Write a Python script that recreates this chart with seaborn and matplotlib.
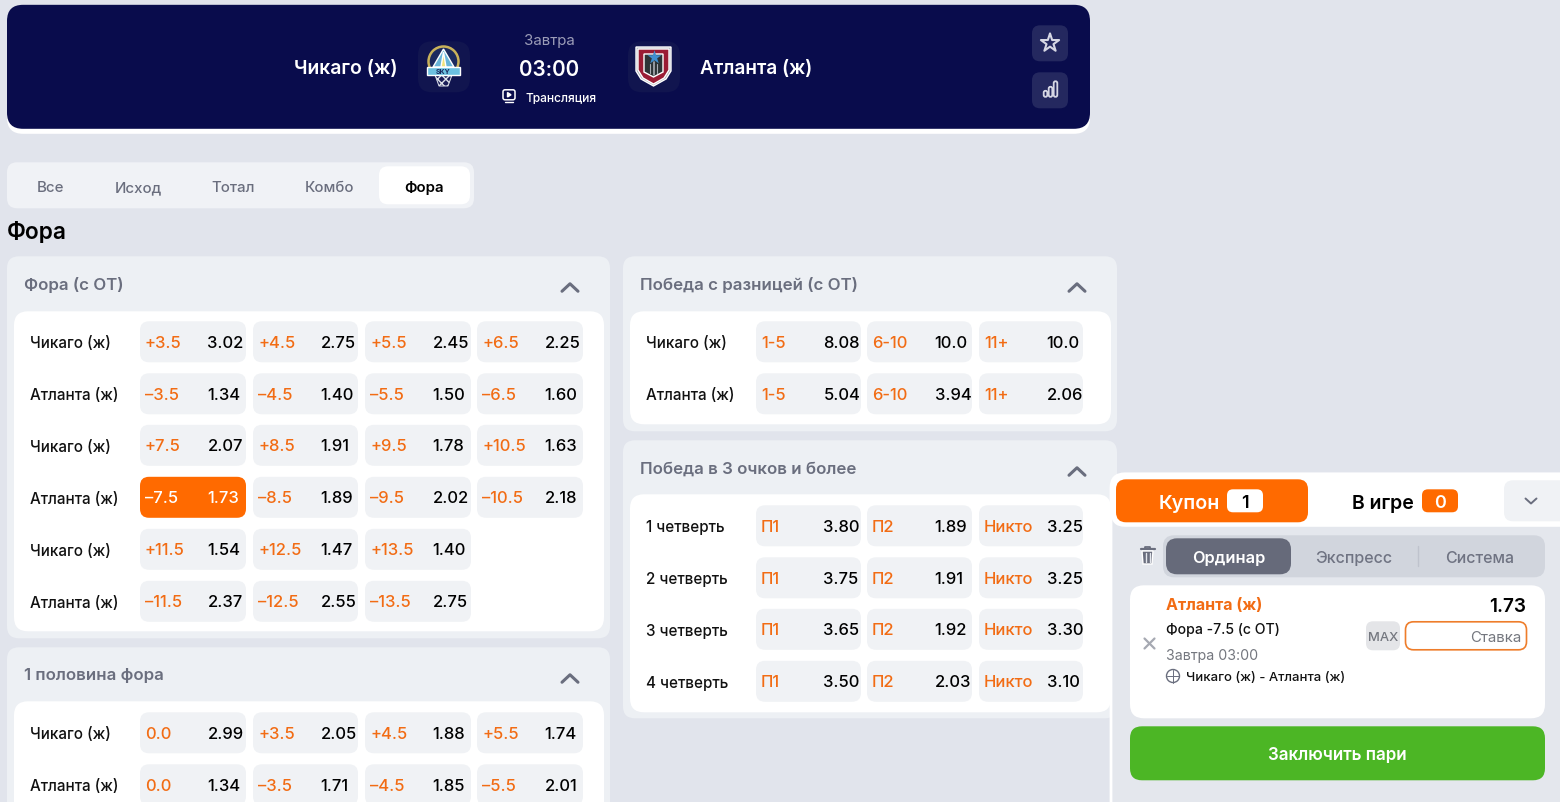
import matplotlib
matplotlib.use("Agg")
import matplotlib.pyplot as plt
import seaborn as sns
from matplotlib.patches import FancyBboxPatch, Circle, Polygon, Rectangle

# Data
team_home = "Чикаго (ж)"
team_away = "Атланта (ж)"
tabs = ["Все", "Исход", "Тотал", "Комбо", "Фора"]

# Фора (с ОТ)
handicap_names = [team_home, team_away, team_home, team_away, team_home, team_away]
handicap_lines = [
    ["+3.5", "+4.5", "+5.5", "+6.5"],
    ["–3.5", "–4.5", "–5.5", "–6.5"],
    ["+7.5", "+8.5", "+9.5", "+10.5"],
    ["–7.5", "–8.5", "–9.5", "–10.5"],
    ["+11.5", "+12.5", "+13.5"],
    ["–11.5", "–12.5", "–13.5"],
]
handicap_odds = [
    ["3.02", "2.75", "2.45", "2.25"],
    ["1.34", "1.40", "1.50", "1.60"],
    ["2.07", "1.91", "1.78", "1.63"],
    ["1.73", "1.89", "2.02", "2.18"],
    ["1.54", "1.47", "1.40"],
    ["2.37", "2.55", "2.75"],
]

# 1 половина фора
half_names = [team_home, team_away]
half_lines = [["0.0", "+3.5", "+4.5", "+5.5"], ["0.0", "–3.5", "–4.5", "–5.5"]]
half_odds = [["2.99", "2.05", "1.88", "1.74"], ["1.34", "1.71", "1.85", "2.01"]]

# Победа с разницей (с ОТ)
margin_names = [team_home, team_away]
margin_lines = [["1-5", "6-10", "11+"], ["1-5", "6-10", "11+"]]
margin_odds = [["8.08", "10.0", "10.0"], ["5.04", "3.94", "2.06"]]

# Победа в 3 очков и более
quarter_names = ["1 четверть", "2 четверть", "3 четверть", "4 четверть"]
quarter_lines = [["П1", "П2", "Никто"]] * 4
quarter_odds = [
    ["3.80", "1.89", "3.25"],
    ["3.75", "1.91", "3.25"],
    ["3.65", "1.92", "3.30"],
    ["3.50", "2.03", "3.10"],
]

BG = "#e1e4ec"
PANEL = "#edf0f4"
CELL = "#f0f2f5"
ORANGE = "#ff6a00"
LINE_ORANGE = "#f26c14"
NAVY = "#090c4c"
GREY = "#6a6e7e"

sns.set_theme(style="white")
plt.rcParams["font.family"] = ["Inter", "DejaVu Sans"]

fig = plt.figure(figsize=(15.6, 8.03), dpi=100, facecolor=BG)
ax = fig.add_axes([0, 0, 1, 1])
ax.set_xlim(0, 1560)
ax.set_ylim(803, 0)
ax.axis("off")


def box(x0, y0, x1, y1, color, r=10, z=1, edge="none", lw=0):
    # shapes sit about a pixel high otherwise
    y0 += 0.8
    y1 += 0.8
    p = FancyBboxPatch((x0 + r, y0 + r), x1 - x0 - 2 * r, y1 - y0 - 2 * r,
                       boxstyle=f"round,pad={r},rounding_size={r}",
                       fc=color, ec=edge, lw=lw, zorder=z)
    ax.add_patch(p)
    return p


def txt(x, y, s, px=17, color="black", weight="medium", ha="left", z=5):
    ax.text(x, y, s, fontsize=px * 0.72, color=color, fontweight=weight,
            ha=ha, va="center_baseline", zorder=z)


def chevron(x, y, w, h, color, up=True, lw=2.2, z=5):
    d = -h if up else h
    ax.plot([x - w, x, x + w], [y - d / 2, y + d / 2, y - d / 2], color=color,
            lw=lw, solid_capstyle="round", solid_joinstyle="round", zorder=z)


def panel(x0, y0, x1, y1, ix0, iy0, ix1, iy1, title):
    box(x0, y0, x1, y1, PANEL, r=12, z=1)
    box(ix0, iy0, ix1, iy1, "white", r=14, z=2)
    txt(x0 + 17, y0 + 27, title, px=16.9, color=GREY, weight="semibold")
    chevron(x1 - 40, y0 + 32, 8, 7.5, GREY)


def table(names, lines, odds, col_x, col_w, row_y, name_x):
    for r, y in enumerate(row_y):
        txt(name_x - 0.5, y + 0.5, names[r], px=15.2, color="#111111")
        for c, (ln, od) in enumerate(zip(lines[r], odds[r])):
            x = col_x[c]
            picked = names is handicap_names and r == 3 and c == 0
            box(x, y - 20.5, x + col_w[c], y + 20.5, ORANGE if picked else CELL, r=9, z=3)
            txt(x + 5, y, ln, px=16.6, color="white" if picked else LINE_ORANGE)
            txt(x + 67.5, y, od, px=16.6, color="white" if picked else "black")


# Header
box(7, 5, 1090, 134, "white", r=16, z=1)
box(7, 5, 1090, 129, NAVY, r=16, z=2)
txt(345.5, 67, team_home, px=19.3, color="white", weight="semibold", ha="center")
txt(756, 67, team_away, px=19, color="white", weight="semibold", ha="center")
txt(549, 40, "Завтра", px=15, color="#9c9db8", ha="center", weight="normal")
txt(549, 68, "03:00", px=20.6, color="white", weight="semibold", ha="center")
txt(525, 97, "Трансляция", px=12, color="white")
box(503, 90, 515, 100, NAVY, r=2, z=3, edge="white", lw=1.1)
ax.add_patch(Polygon([[507.5, 93.5], [507.5, 98], [511, 95.8]], fc="white", zorder=4))
ax.plot([505, 513], [103, 103], color="white", lw=1, zorder=4)

# Team logos
box(418, 41.5, 470, 92.5, "#11154f", r=14, z=3)
box(628, 41.5, 680, 92.5, "#11154f", r=14, z=3)
# Chicago: ball with rim, banner and net
ax.add_patch(Circle((443.5, 62.5), 15, fc="#1c2a5e", ec="#c9b25a", lw=1.8, zorder=4))
ax.add_patch(Polygon([[443.5, 50], [433, 68], [454, 68]], fc="#69b5d8", zorder=5))
ax.add_patch(Polygon([[443.5, 53], [441, 68], [446, 68]], fc="#f1e27a", zorder=6))
ax.add_patch(Rectangle((427, 68), 33, 7.5, fc="#6cc1e0", zorder=7))
txt(443.5, 72, "SKY", px=7, color="#1a2a5e", weight="bold", ha="center", z=8)
ax.add_patch(Polygon([[435, 76], [452, 76], [448, 87], [439, 87]], fc="#1a1e58", ec="#dfe3ea",
                     lw=0.7, hatch="xxxx", zorder=5))
# Atlanta: shield
ax.add_patch(Polygon([[636, 48], [671, 48], [671, 72], [666, 80], [653.5, 87], [641, 80], [636, 72]],
                     fc="#a9adb4", zorder=4))
ax.add_patch(Polygon([[638, 50], [669, 50], [669, 71], [664, 79], [653.5, 85], [643, 79], [638, 71]],
                     fc="#9a1c34", zorder=5))
ax.add_patch(Polygon([[644, 55], [663, 55], [663, 73], [653.5, 78], [644, 73]], fc="#2d3436", zorder=6))
ax.scatter([653.5], [58], marker="*", s=110, color="#3f8fd0", lw=0, zorder=7)
ax.plot([653.5, 653.5], [63, 76], color="#a9adb4", lw=1.2, zorder=7)
ax.plot([650, 650], [65, 74], color="#a9adb4", lw=0.8, zorder=7)
ax.plot([657, 657], [65, 74], color="#a9adb4", lw=0.8, zorder=7)

# Header buttons
box(1032, 25.5, 1068, 61.5, "#24285f", r=8, z=3)
box(1032, 72.5, 1068, 108.5, "#24285f", r=8, z=3)
ax.scatter([1050], [44], marker="*", s=190, facecolor="none", edgecolor="#d6d7e4", lw=1.5, zorder=5)
for bx, by in zip([1045.5, 1050.5, 1055.5], [91, 87, 81.5]):
    box(bx - 1.8, by, bx + 1.8, 97, "none", r=1.7, z=5, edge="#d6d7e4", lw=1.3)

# Tabs
box(7, 162.5, 474, 208.5, "#f0f2f6", r=10, z=1)
box(379, 166.5, 470, 204.5, "white", r=9, z=2)
for name, x in zip(tabs, [50, 138, 233, 329, 424]):
    col = "black" if name == "Фора" else GREY
    txt(x, 186.5, name, px=15, color=col, ha="center", z=4, weight="semibold" if name == "Фора" else "medium")
txt(7, 230.5, "Фора", px=22.7, color="black", weight="semibold")

# Left column
panel(7, 256.5, 610, 638.5, 14, 311.5, 604, 631.5, "Фора (с ОТ)")
panel(7, 647.5, 610, 830, 14, 701.5, 604, 830, "1 половина фора")
left_cols = [140, 253, 365, 477]
left_w = [106, 105, 106, 106]
table(handicap_names, handicap_lines, handicap_odds, left_cols, left_w,
      [342, 394, 445.5, 497.5, 549.5, 601.5], 31)
table(half_names, half_lines, half_odds, left_cols, left_w, [733, 785], 31)

# Right column
panel(623, 256.5, 1117, 431.5, 630, 311.5, 1111, 424.5, "Победа с разницей (с ОТ)")
panel(623, 440.5, 1117, 718.5, 630, 494.5, 1111, 712.5, "Победа в 3 очков и более")
right_cols = [756, 867, 979]
right_w = [105, 105, 104]
table(margin_names, margin_lines, margin_odds, right_cols, right_w, [342, 394], 647)
table(quarter_names, quarter_lines, quarter_odds, right_cols, right_w, [526, 578, 629.5, 681.5], 647)

# Coupon
box(1111, 474, 1600, 840, "#e4e7ed", r=14, z=10, edge="white", lw=2)
box(1111, 474, 1600, 527, "white", r=14, z=11)
box(1116, 479.5, 1308, 522.5, ORANGE, r=10, z=12)
txt(1189.5, 502, "Купон", px=19.6, color="white", weight="semibold", ha="center", z=14)
box(1227, 489.5, 1263, 512.5, "white", r=6, z=13)
txt(1245, 502, "1", px=18, color="black", weight="semibold", ha="center", z=14)
txt(1383, 502, "В игре", px=19.5, color="black", weight="semibold", ha="center", z=14)
box(1422, 489.5, 1458, 512.5, ORANGE, r=6, z=13)
txt(1440, 502, "0", px=18, color="white", weight="semibold", ha="center", z=14)
box(1504, 480.5, 1600, 521.5, "#f0f2f5", r=9, z=12)
chevron(1531, 502, 5.5, 5, "#6a6e7e", up=False, lw=1.4, z=14)

# Trash icon
ax.plot([1140.5, 1154.5], [550, 550], color="#6a6e7e", lw=1.6, zorder=14)
ax.plot([1145, 1145, 1150, 1150], [550, 548, 548, 550], color="#6a6e7e", lw=1.3, zorder=14)
ax.add_patch(Polygon([[1142, 552], [1153, 552], [1152, 565], [1143, 565]], fc="#6a6e7e", zorder=14))
for tx in [1145.5, 1149.5]:
    ax.plot([tx, tx], [554, 563], color="#e4e7ed", lw=1, zorder=15)

# Bet type switch
box(1163, 535.5, 1545, 577.5, "#d1d5dd", r=11, z=11)
box(1166, 538.5, 1291, 574.5, "#666a7a", r=11, z=12)
txt(1228.5, 557.5, "Ординар", px=16.4, color="white", weight="semibold", ha="center", z=14)
txt(1354, 557.5, "Экспресс", px=16, color="#6f7382", weight="medium", ha="center", z=14)
txt(1480, 557.5, "Система", px=16, color="#6f7382", weight="medium", ha="center", z=14)
ax.plot([1417.5, 1417.5], [547, 567], color="#bfc3cd", lw=1, zorder=13)

# Bet card
box(1130, 585.5, 1545, 718.5, "white", r=14, z=11)
txt(1166, 604.5, team_away, px=16, color=LINE_ORANGE, weight="bold", z=14)
txt(1526.5, 605, "1.73", px=19, color="black", weight="semibold", ha="right", z=14)
txt(1166, 629, "Фора -7.5 (с ОТ)", px=14.1, color="#111111", z=14)
txt(1166, 655, "Завтра 03:00", px=14.2, color="#74777f", weight="normal", z=14)
txt(1186, 677, "Чикаго (ж) - Атланта (ж)", px=13.1, color="#111111", z=14)
for s in (1, -1):
    ax.plot([1144.5, 1154.5], [644.5 - s * 5, 644.5 + s * 5], color="#a6a9b2", lw=1.6, zorder=14)
ax.add_patch(Circle((1173, 677), 6.5, fc="none", ec="#6a6e7e", lw=1, zorder=14))
ax.plot([1167, 1179], [677, 677], color="#6a6e7e", lw=0.7, zorder=14)
ax.plot([1173, 1173], [670.5, 683.5], color="#6a6e7e", lw=0.7, zorder=14)
box(1366, 621.5, 1400, 650.5, "#e4e5e8", r=7, z=12)
txt(1383, 637, "MAX", px=13, color="#74777f", ha="center", z=14)
box(1405.5, 622, 1526.5, 650, "white", r=8, z=12, edge="#ee7d2b", lw=1.2)
txt(1521, 637, "Ставка", px=15, color="#74777f", weight="normal", ha="right", z=14)

# Submit button
box(1130, 726.5, 1545, 780.5, "#4cb625", r=12, z=11)
txt(1337.5, 753.5, "Заключить пари", px=17, color="white", weight="semibold", ha="center", z=14)

fig.savefig("out.png", dpi=100, facecolor=BG)
